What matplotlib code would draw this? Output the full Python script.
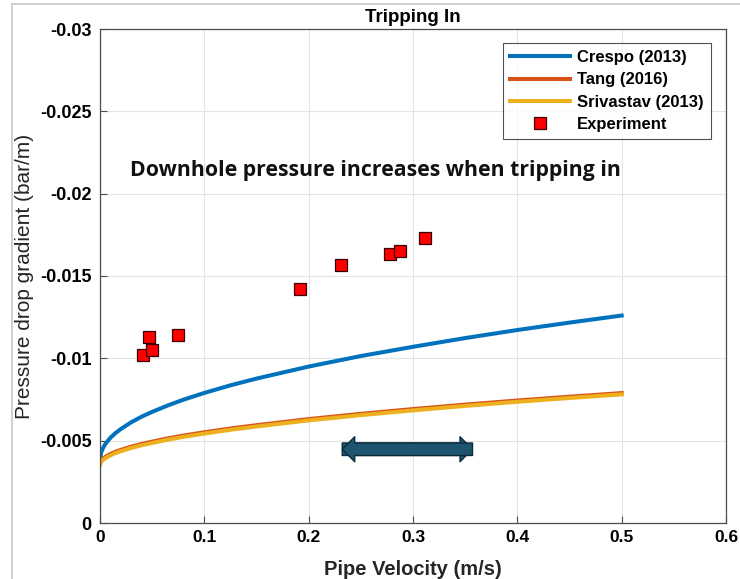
import matplotlib
matplotlib.use("Agg")
import matplotlib.pyplot as plt
from matplotlib.patches import FancyArrowPatch
from matplotlib.lines import Line2D

# Pipe velocity grid for model curves (m/s)
velocity = [0.0, 0.001, 0.0025, 0.005, 0.01, 0.015, 0.02, 0.03, 0.04, 0.05,
            0.065, 0.08, 0.1, 0.125, 0.15, 0.2, 0.25, 0.3, 0.35, 0.4,
            0.45, 0.5]

# Model predictions of pressure drop gradient (bar/m)
crespo_2013 = [-0.0038, -0.00426, -0.00451, -0.00479, -0.00518, -0.00547,
               -0.00571, -0.00612, -0.00646, -0.00675, -0.00714, -0.00749,
               -0.0079, -0.00836, -0.00877, -0.0095, -0.01014, -0.0107,
               -0.01123, -0.01172, -0.01217, -0.0126]
tang_2016 = [-0.0036, -0.00377, -0.00389, -0.00401, -0.00419, -0.00433,
             -0.00444, -0.00464, -0.0048, -0.00494, -0.00514, -0.00531,
             -0.00551, -0.00574, -0.00594, -0.00631, -0.00663, -0.00692,
             -0.00719, -0.00744, -0.00767, -0.00789]
srivastav_2013 = [-0.0035, -0.00369, -0.00381, -0.00393, -0.00411, -0.00425,
                  -0.00436, -0.00456, -0.00472, -0.00486, -0.00506, -0.00523,
                  -0.00543, -0.00566, -0.00586, -0.00623, -0.00655, -0.00684,
                  -0.00711, -0.00736, -0.00759, -0.00781]

# Measured data
exp_velocity = [0.0415, 0.0473, 0.0499, 0.0745, 0.1915, 0.2308, 0.2783,
                0.2873, 0.3116]
exp_gradient = [-0.0102, -0.01128, -0.01051, -0.01144, -0.01419, -0.01565,
                -0.01632, -0.01654, -0.01731]

# Highlighted velocity range
range_start, range_end, range_level = 0.2295, 0.3597, -0.00448

x_ticks = [0, 0.1, 0.2, 0.3, 0.4, 0.5, 0.6]
x_tick_labels = ["0", "0.1", "0.2", "0.3", "0.4", "0.5", "0.6"]
y_ticks = [0, -0.005, -0.01, -0.015, -0.02, -0.025, -0.03]
y_tick_labels = ["0", "-0.005", "-0.01", "-0.015", "-0.02", "-0.025", "-0.03"]

plt.rcParams["font.family"] = ["Liberation Sans", "DejaVu Sans"]

fig = plt.figure(figsize=(7.40, 5.79), dpi=100)
ax = fig.add_axes([100 / 740, 56 / 579, 626 / 740, 494 / 579])

# light frame around the figure
fig.add_artist(Line2D([12 / 740, 12 / 740], [0, 1 - 4 / 579],
                      transform=fig.transFigure, color="#c8c8c8", lw=1.2))
fig.add_artist(Line2D([12 / 740, 1], [1 - 4 / 579, 1 - 4 / 579],
                      transform=fig.transFigure, color="#c8c8c8", lw=1.2))

ax.plot(velocity, crespo_2013, color="#0072BD", lw=2.9, label="Crespo (2013)")
ax.plot(velocity, tang_2016, color="#D95319", lw=2.9, label="Tang (2016)")
ax.plot(velocity, srivastav_2013, color="#EDB120", lw=2.9,
        label="Srivastav (2013)")
ax.plot(exp_velocity, exp_gradient, linestyle="none", marker="s",
        markersize=8.5, markerfacecolor="#FF0000", markeredgecolor="#3a0000",
        markeredgewidth=0.9, label="Experiment")

ax.set_xlim(0, 0.6)
ax.set_ylim(0, -0.03)
ax.set_xticks(x_ticks)
ax.set_xticklabels(x_tick_labels)
ax.set_yticks(y_ticks)
ax.set_yticklabels(y_tick_labels)
ax.tick_params(axis="x", labelsize=12.5, pad=5)
ax.tick_params(axis="y", labelsize=13, pad=6)
ax.tick_params(direction="in", length=5, color="#4d4d4d", width=0.8)
for lbl in ax.get_xticklabels() + ax.get_yticklabels():
    lbl.set_fontweight("bold")
ax.grid(True, color="#e3e3e3", lw=0.8)
ax.set_axisbelow(True)
for sp in ax.spines.values():
    sp.set_color("#4d4d4d")
    sp.set_linewidth(0.9)

ax.set_xlabel("Pipe Velocity (m/s)", fontsize=14.5, fontweight="bold",
              color="#262626", labelpad=11)
ax.set_ylabel("Pressure drop gradient (bar/m)", fontsize=15,
              fontweight="normal", color="#262626", labelpad=4)
ax.set_title("Tripping In", fontsize=13.5, fontweight="bold", pad=5)

leg = ax.legend(loc="upper right", bbox_to_anchor=(0.976, 0.972),
                fontsize=12, frameon=True, fancybox=False,
                edgecolor="#262626", handlelength=3.6, borderpad=0.45,
                labelspacing=0.43, handletextpad=0.4, borderaxespad=0.0)
leg.get_frame().set_linewidth(0.8)
for t in leg.get_texts():
    t.set_fontweight("bold")

ax.text(0.048, 0.713, "Downhole pressure increases when tripping in",
        transform=ax.transAxes, fontsize=15.3, fontweight="bold",
        family=["Open Sans", "DejaVu Sans"], color="#111111", va="center")

arrow_style = "simple,head_length=9,head_width=18,tail_width=9"
for a, b in [(range_start, range_end), (range_end, range_start)]:
    ax.add_patch(FancyArrowPatch((a, range_level), (b, range_level),
                                 arrowstyle=arrow_style, facecolor="#1d5570",
                                 edgecolor="#0d2c3a", lw=1.0,
                                 mutation_scale=1))

fig.savefig("out.png", dpi=100)
